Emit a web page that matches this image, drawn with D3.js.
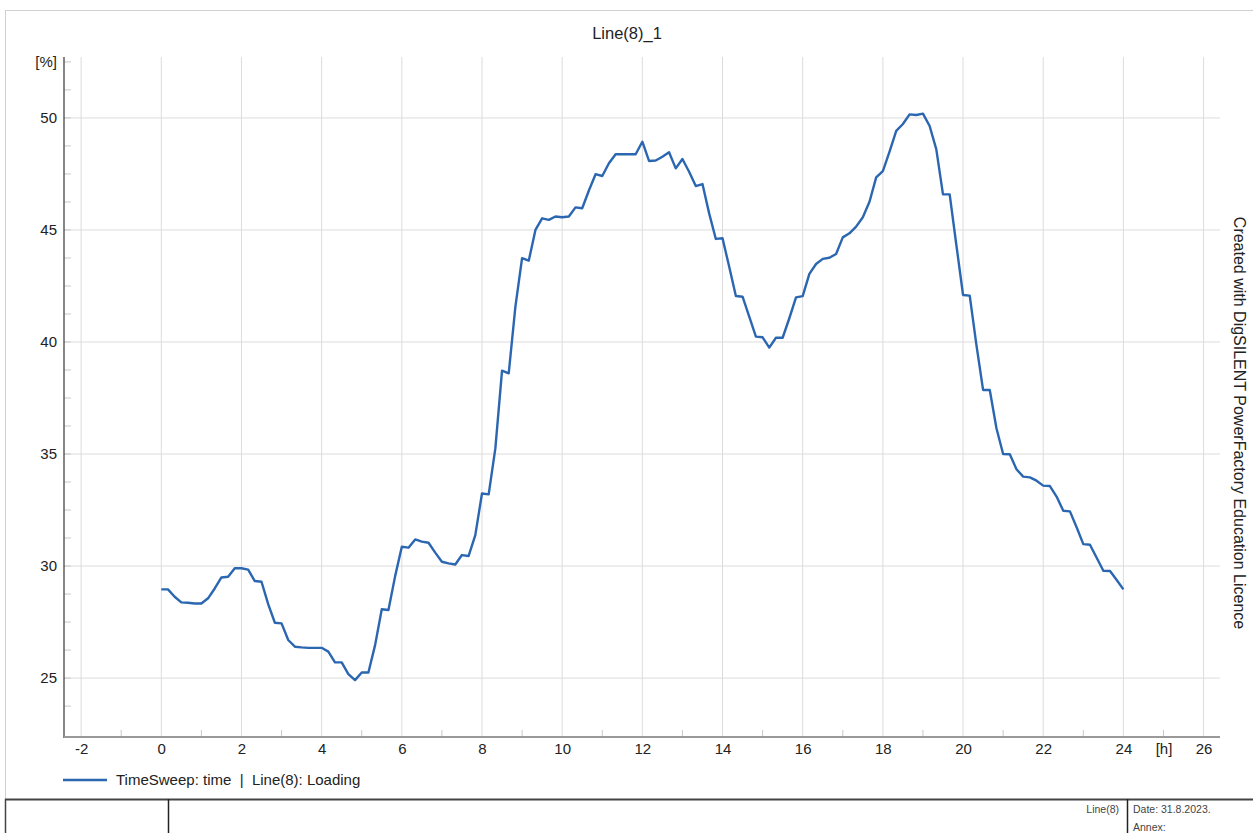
<!DOCTYPE html>
<meta charset="utf-8">
<head>
    <title>Line(8)_1</title>
    <script src="https://cdn.jsdelivr.net/npm/d3@7/dist/d3.min.js"></script>
</head>

<style>
    body { margin: 0; background: #fff; }
    svg { font-family: "Liberation Sans", Arial, sans-serif; }
    .grid line { stroke: #dcdcdc; stroke-width: 1px; }
    .tick-lbl text { font-size: 15px; fill: #222; }
    .axis path, .axis line { display: none; }
</style>

<svg></svg>

<script>
    var vWidth = 1253;
    var vHeight = 833;

    // time in hours, 10 minute steps, 0..24
    var vStep = 1 / 6;
    // loading in %
    var vLoading = [
        28.96, 28.96, 28.63, 28.38, 28.36, 28.33, 28.33, 28.56, 29.00, 29.49, 29.52, 29.90,
        29.90, 29.84, 29.33, 29.30, 28.30, 27.47, 27.44, 26.70, 26.40, 26.37, 26.35, 26.35,
        26.35, 26.18, 25.70, 25.70, 25.18, 24.91, 25.25, 25.25, 26.47, 28.07, 28.04, 29.55,
        30.86, 30.82, 31.19, 31.09, 31.04, 30.60, 30.19, 30.12, 30.07, 30.49, 30.45, 31.38,
        33.24, 33.20, 35.25, 38.72, 38.60, 41.58, 43.74, 43.63, 45.00, 45.52, 45.45, 45.60,
        45.57, 45.60, 46.01, 45.97, 46.76, 47.49, 47.41, 47.98, 48.38, 48.38, 48.38, 48.38,
        48.94, 48.08, 48.10, 48.27, 48.47, 47.75, 48.17, 47.60, 46.96, 47.05, 45.74, 44.60,
        44.63, 43.36, 42.05, 42.02, 41.13, 40.24, 40.21, 39.75, 40.19, 40.19, 41.06, 41.99,
        42.05, 43.04, 43.48, 43.71, 43.76, 43.93, 44.67, 44.85, 45.15, 45.57, 46.26, 47.35,
        47.63, 48.50, 49.42, 49.73, 50.16, 50.13, 50.19, 49.64, 48.60, 46.59, 46.59, 44.33,
        42.10, 42.07, 39.87, 37.86, 37.86, 36.15, 35.00, 34.99, 34.32, 33.99, 33.96, 33.81,
        33.59, 33.57, 33.10, 32.47, 32.44, 31.73, 30.98, 30.95, 30.37, 29.79, 29.78, 29.38,
        28.96
    ];

    var vXTicks = [-2, 0, 2, 4, 6, 8, 10, 12, 14, 16, 18, 20, 22, 24, 26];
    var vXMinor = [-1, 1, 3, 5, 7, 9, 11, 13, 15, 17, 19, 21, 23, 25];
    var vYTicks = [25, 30, 35, 40, 45, 50];
    var vXDomain = [-2.427, 26.41];
    var vYDomain = [22.37, 52.72];

    var vTitle = 'Line(8)_1';
    var vLegend = 'TimeSweep: time  |  Line(8): Loading';
    var vSide = 'Created with DigSILENT PowerFactory Education Licence';

    var vData = vLoading.map(function (v, i) { return { t: i * vStep, v: v }; });

    var svg = d3.select('svg').attr('width', vWidth).attr('height', vHeight);

    var x = d3.scaleLinear().domain(vXDomain).range([64, 1220]);
    var y = d3.scaleLinear().domain(vYDomain).range([737, 57]);

    // page frame
    svg.append('rect').attr('x', 5.5).attr('y', 10.5).attr('width', vWidth).attr('height', vHeight)
        .attr('fill', 'none').attr('stroke', '#d0d0d0');

    svg.append('text').attr('x', 627).attr('y', 39).attr('text-anchor', 'middle')
        .style('font-size', '16.5px').attr('fill', '#222').text(vTitle);

    // grid
    var grid = svg.append('g').attr('class', 'grid');
    grid.selectAll('.gx').data(vXTicks).enter().append('line')
        .attr('x1', function (d) { return x(d); }).attr('x2', function (d) { return x(d); })
        .attr('y1', y.range()[1]).attr('y2', y.range()[0]);
    grid.selectAll('.gy').data(vYTicks).enter().append('line')
        .attr('x1', x.range()[0]).attr('x2', x.range()[1])
        .attr('y1', function (d) { return y(d); }).attr('y2', function (d) { return y(d); });

    // minor ticks
    var yMinor = d3.range(23.75, 52.6, 1.25);
    svg.append('g').selectAll('line').data(yMinor).enter().append('line')
        .attr('x1', 64).attr('x2', 71)
        .attr('y1', function (d) { return y(d); }).attr('y2', function (d) { return y(d); })
        .attr('stroke', '#c8c8c8');
    svg.append('g').selectAll('line').data(vXMinor).enter().append('line')
        .attr('x1', function (d) { return x(d); }).attr('x2', function (d) { return x(d); })
        .attr('y1', 737).attr('y2', 730)
        .attr('stroke', '#c8c8c8');

    // axes lines
    svg.append('line').attr('x1', 64).attr('x2', 64).attr('y1', 57).attr('y2', 738)
        .attr('stroke', '#444').attr('stroke-width', 1.3);
    svg.append('line').attr('x1', 64).attr('x2', 1220).attr('y1', 737).attr('y2', 737)
        .attr('stroke', '#999').attr('stroke-width', 2);

    // tick labels through d3 axes
    var xLabels = vXTicks.concat([25]);
    var xAxis = d3.axisBottom(x).tickValues(xLabels).tickSize(0).tickPadding(0)
        .tickFormat(function (d) { return d === 25 ? '[h]' : d; });
    svg.append('g').attr('class', 'axis tick-lbl').attr('transform', 'translate(0,743)').call(xAxis)
        .selectAll('text').attr('dy', '0.75em');

    var yLabels = vYTicks.concat([52.5]);
    var yAxis = d3.axisLeft(y).tickValues(yLabels).tickSize(0).tickPadding(0)
        .tickFormat(function (d) { return d === 52.5 ? '[%]' : d; });
    svg.append('g').attr('class', 'axis tick-lbl').attr('transform', 'translate(57,0)').call(yAxis);

    // the curve
    var line = d3.line().x(function (d) { return x(d.t); }).y(function (d) { return y(d.v); });
    svg.append('path').datum(vData).attr('d', line)
        .attr('fill', 'none').attr('stroke', '#2b66b1').attr('stroke-width', 2.4)
        .attr('stroke-linejoin', 'round');

    // legend
    svg.append('line').attr('x1', 63).attr('x2', 107).attr('y1', 780).attr('y2', 780)
        .attr('stroke', '#2b66b1').attr('stroke-width', 2.4);
    svg.append('text').attr('x', 116).attr('y', 785).style('font-size', '15px').attr('fill', '#222')
        .attr('xml:space', 'preserve').style('white-space', 'pre').text(vLegend);

    // side note
    svg.append('text').attr('transform', 'translate(1234,423) rotate(90)').attr('text-anchor', 'middle')
        .style('font-size', '16px').attr('fill', '#222').text(vSide);

    // footer box
    svg.append('line').attr('x1', 5).attr('x2', vWidth).attr('y1', 799.5).attr('y2', 799.5)
        .attr('stroke', '#444').attr('stroke-width', 2);
    svg.append('line').attr('x1', 168.5).attr('x2', 168.5).attr('y1', 799).attr('y2', vHeight)
        .attr('stroke', '#222').attr('stroke-width', 1.5);
    svg.append('line').attr('x1', 1127.5).attr('x2', 1127.5).attr('y1', 799).attr('y2', vHeight)
        .attr('stroke', '#222').attr('stroke-width', 1.5);
    svg.append('line').attr('x1', 5.5).attr('x2', 5.5).attr('y1', 799).attr('y2', vHeight)
        .attr('stroke', '#444').attr('stroke-width', 1.5);
    svg.append('text').attr('x', 1119).attr('y', 813).attr('text-anchor', 'end')
        .style('font-size', '10.5px').attr('fill', '#444').text('Line(8)');
    svg.append('text').attr('x', 1133).attr('y', 813)
        .style('font-size', '10.5px').attr('fill', '#444').text('Date: 31.8.2023.');
    svg.append('text').attr('x', 1133).attr('y', 831)
        .style('font-size', '10.5px').attr('fill', '#444').text('Annex:');
</script>
